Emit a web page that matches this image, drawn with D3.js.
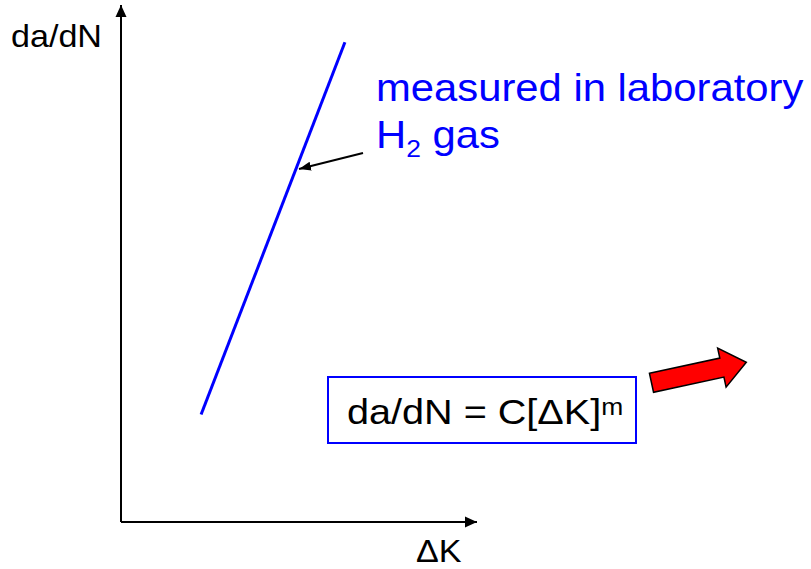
<!DOCTYPE html>
<html>
<head>
<meta charset="utf-8">
<script src="https://cdn.jsdelivr.net/npm/d3@7"></script>
<style>
  body { margin: 0; background: #fff; }
  svg { display: block; }
  text { font-family: "Liberation Sans", Arial, sans-serif; }
</style>
</head>
<body>
<div id="chart"></div>
<script>
// schematic Paris-law plot, arbitrary units on both axes
const axisDomain = [0, 10];
const lineK = [2.25, 6.29];        // ΔK at the two ends of the measured line
const lineRate = [2.08, 9.28];     // da/dN at the two ends
const axisLabels = ['da/dN', '\u0394K'];
const noteLines = ['measured in laboratory', 'H', '2', ' gas'];
const lawText = ['da/dN = C[\u0394K]', 'm'];

const width = 811, height = 569;
const blue = '#0000ff';
const sx = 1.1; // source text is slightly stretched horizontally

const svg = d3.select('#chart').append('svg')
  .attr('width', width)
  .attr('height', height);

const x = d3.scaleLinear().domain(axisDomain).range([121, 477]);
const y = d3.scaleLinear().domain(axisDomain).range([522, 5]);

const defs = svg.append('defs');
defs.append('marker')
  .attr('id', 'axisHead')
  .attr('viewBox', '0 0 12 12')
  .attr('refX', 12).attr('refY', 6)
  .attr('markerUnits', 'userSpaceOnUse')
  .attr('markerWidth', 12).attr('markerHeight', 12)
  .attr('orient', 'auto')
  .append('path').attr('d', 'M0,0.5 L12,6 L0,11.5 Z').attr('fill', '#000');
defs.append('marker')
  .attr('id', 'noteHead')
  .attr('viewBox', '0 0 12 10')
  .attr('refX', 12).attr('refY', 5)
  .attr('markerUnits', 'userSpaceOnUse')
  .attr('markerWidth', 12).attr('markerHeight', 10)
  .attr('orient', 'auto')
  .append('path').attr('d', 'M0,0.5 L12,5 L0,9.5 Z').attr('fill', '#000');

// axes
const axes = svg.append('g').attr('stroke', '#000').attr('stroke-width', 2).attr('fill', 'none');
axes.append('path')
  .attr('d', `M${x(0)},${y(0)} V${y(10)}`)
  .attr('marker-end', 'url(#axisHead)');
axes.append('path')
  .attr('d', `M${x(0)},${y(0)} H${x(10)}`)
  .attr('marker-end', 'url(#axisHead)');

function label(g, tx, ty, size, fill) {
  return g.append('text')
    .attr('transform', `translate(${tx},${ty}) scale(${sx},1)`)
    .style('font-size', size + 'px')
    .attr('fill', fill);
}

label(svg, 11, 47, 31, '#000').text(axisLabels[0]);
label(svg, 416, 562, 31, '#000').text(axisLabels[1]);

// measured line
const pts = lineK.map((k, i) => [k, lineRate[i]]);
svg.append('path')
  .datum(pts)
  .attr('d', d3.line().x(d => x(d[0])).y(d => y(d[1])))
  .attr('stroke', blue)
  .attr('stroke-width', 3)
  .attr('fill', 'none');

// annotation
label(svg, 376, 101, 38, blue).text(noteLines[0]);
const h2 = label(svg, 376, 148, 38, blue);
h2.append('tspan').text(noteLines[1]);
h2.append('tspan').attr('dy', 9).style('font-size', '24px').text(noteLines[2]);
h2.append('tspan').attr('dy', -9).text(noteLines[3]);

svg.append('line')
  .attr('x1', 363).attr('y1', 153)
  .attr('x2', 299).attr('y2', 169)
  .attr('stroke', '#000').attr('stroke-width', 2)
  .attr('marker-end', 'url(#noteHead)');

// equation box
svg.append('rect')
  .attr('x', 328).attr('y', 377)
  .attr('width', 308).attr('height', 66)
  .attr('fill', '#fff')
  .attr('stroke', blue).attr('stroke-width', 2);
const eq = label(svg, 347, 424, 36, '#000');
eq.append('tspan').text(lawText[0]);
eq.append('tspan').attr('dy', -9).style('font-size', '24px').text(lawText[1]);

// red block arrow
const shaft = 72, halfW = 9.7, headW = 20, headL = 25;
const arrowShape = [[0, -halfW], [shaft, -halfW], [shaft, -headW], [shaft + headL, 0],
  [shaft, headW], [shaft, halfW], [0, halfW]];
svg.append('polygon')
  .attr('points', arrowShape.map(p => p.join(',')).join(' '))
  .attr('transform', 'translate(651.5,382.8) rotate(-12.2)')
  .attr('fill', '#ff0000')
  .attr('stroke', '#000')
  .attr('stroke-width', 1.5)
  .attr('stroke-linejoin', 'miter');
</script>
</body>
</html>
